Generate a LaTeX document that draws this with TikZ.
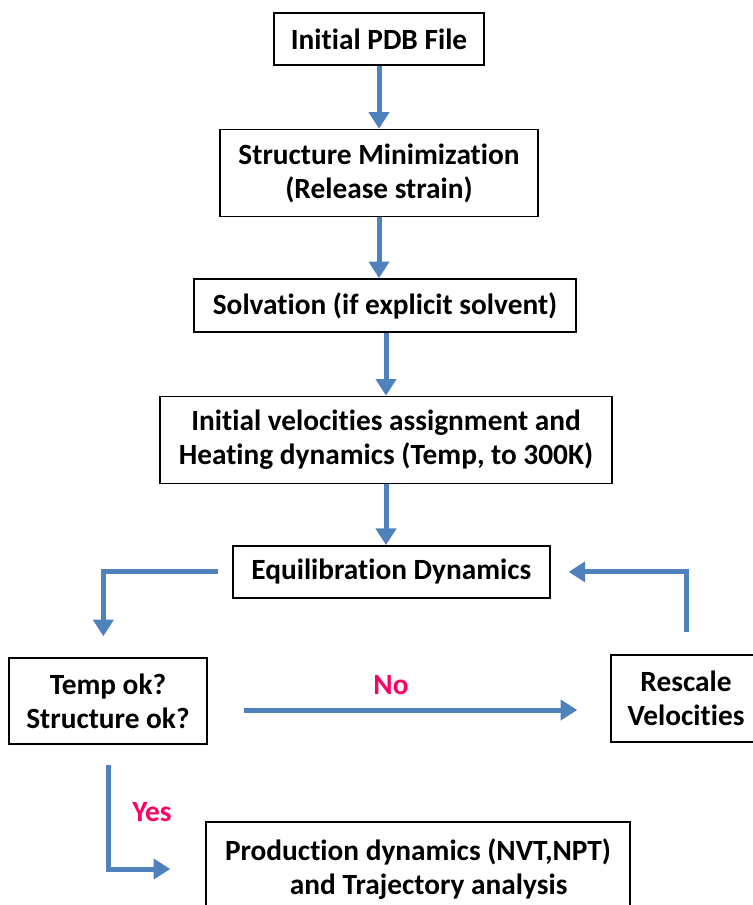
\documentclass[tikz,border=0pt]{standalone}
\usepackage{fontspec}
\setmainfont[Ligatures=NoCommon]{Carlito}
\usetikzlibrary{positioning,arrows.meta}
\definecolor{flowblue}{HTML}{4F81BD}
\definecolor{answerpink}{HTML}{FF0066}

\begin{document}
\begin{tikzpicture}[
    x=0.75pt, y=-0.75pt,
    font=\fontsize{22}{25.5}\selectfont\bfseries,
    box/.style={draw=black, line width=1.1pt, align=center, inner sep=2pt},
    flow/.style={-{Triangle[width=15pt,length=12.5pt]}, line width=3.75pt, draw=flowblue},
    answer/.style={text=answerpink}
  ]
    \useasboundingbox (0,0) rectangle (752,905);

    \node[box, minimum width=157.5pt, minimum height=39pt] (pdb) at (379,39) {Initial PDB File};
    \node[box, minimum width=238.5pt, minimum height=65.25pt, below=47.25pt of pdb] (minim) {Structure Minimization\\(Release strain)};
    \node[box, minimum width=286.5pt, minimum height=39.75pt, below=45.75pt of minim, xshift=4.5pt] (solv) {Solvation (if explicit solvent)};
    \node[box, minimum width=339pt, minimum height=65.25pt, below=47.25pt of solv, xshift=0.75pt] (heat) {Initial velocities assignment and\\Heating dynamics (Temp, to 300K)};
    \node[box, minimum width=237.75pt, minimum height=39pt, below=45.75pt of heat, xshift=4pt] (equil) {Equilibration Dynamics};
    \node[box, minimum width=148.5pt, minimum height=64.5pt] (check) at (108,701) {Temp ok?\\Structure ok?};
    \node[box, minimum width=112.5pt, minimum height=65pt] (rescale) at (686,698.5) {Rescale\\Velocities};
    \node[box, minimum width=318pt, minimum height=70.5pt] (prod) at (418,869) {Production dynamics (NVT,NPT)\\\hspace*{16pt}and Trajectory analysis};

    \draw[flow] (pdb) -- (minim);
    \draw[flow] (minim) -- (minim |- solv.north);
    \draw[flow] (solv.south -| heat) -- (heat);
    \draw[flow] (heat) -- (heat |- equil.north);
    \draw[flow, shorten <=10.5pt, shorten >=15.75pt] (equil.west) -| ([xshift=-3.5pt]check.north);
    \draw[flow, shorten <=16.5pt, shorten >=13.5pt] (rescale.north) |- (equil.east);
    \draw[flow, shorten <=27pt, shorten >=24.75pt] ([yshift=-6.75pt]check.east) -- ([yshift=-6.75pt]check.east -| rescale.west)
      node[answer, midway, above=6pt, xshift=-13.5pt] (no) {No};
    \draw[flow, shorten <=15pt, shorten >=26.25pt] (check.south) |- (prod.west)
      node[answer, pos=0.27, right=13pt] (yes) {Yes};
  \end{tikzpicture}
\end{document}
